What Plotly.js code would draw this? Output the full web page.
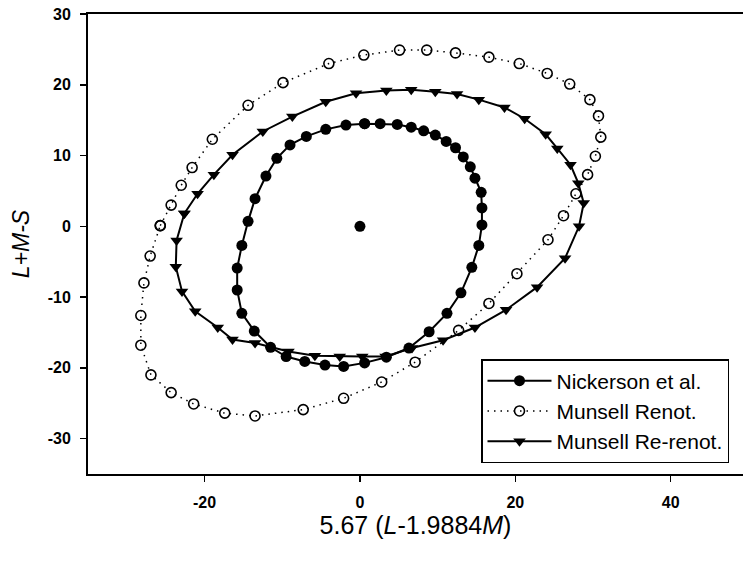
<!DOCTYPE html>
<html>
<head>
<meta charset="utf-8">
<script src="https://cdn.plot.ly/plotly-3.0.1.min.js"></script>
<style>html,body{margin:0;padding:0;background:#fff;overflow:hidden;}</style>
</head>
<body>
<div id="chart" style="width:743px;height:562px;"></div>
<script>
// Nickerson et al. (filled circles, solid line)
const nickX = [0.6, 2.6, 4.8, 6.6, 8.2, 9.7, 11.1, 12.3, 13.3, 14.2, 14.8, 15.6, 15.7, 15.7, 15.3, 14.4, 13.0, 11.2, 8.9, 6.3, 3.4, 0.6, -2.1, -4.5, -7.1, -9.5, -11.5, -13.6, -15.2, -15.8, -15.8, -15.2, -14.4, -13.5, -12.1, -10.7, -9.0, -6.9, -4.4, -1.8];
const nickY = [14.5, 14.5, 14.4, 14.0, 13.5, 12.9, 12.0, 11.1, 9.8, 8.4, 6.8, 4.8, 2.6, 0.2, -2.7, -5.8, -9.4, -12.3, -14.9, -17.2, -18.5, -19.3, -19.8, -19.6, -19.1, -18.4, -17.1, -14.8, -12.3, -9.0, -5.9, -2.7, 0.7, 3.9, 7.1, 9.6, 11.5, 12.7, 13.7, 14.3];
// Munsell Renot. (open circles, dotted line)
const renX = [-25.7, -24.3, -23.0, -21.6, -19.0, -14.4, -9.9, -4.0, 0.5, 5.1, 8.6, 12.3, 16.6, 20.5, 24.1, 27.0, 29.6, 30.7, 31.0, 30.3, 29.3, 27.8, 26.2, 24.2, 20.2, 16.6, 12.7, 7.1, 2.8, -2.1, -7.3, -13.5, -17.4, -21.4, -24.3, -26.9, -28.2, -28.2, -27.8, -27.0];
const renY = [0.1, 3.0, 5.8, 8.3, 12.3, 17.1, 20.3, 23.0, 24.2, 24.9, 24.9, 24.5, 23.9, 23.0, 21.6, 20.1, 17.9, 15.6, 12.6, 9.9, 7.3, 4.6, 1.5, -1.9, -6.7, -10.9, -14.7, -19.2, -22.0, -24.3, -25.9, -26.8, -26.4, -25.1, -23.5, -21.0, -16.8, -12.6, -8.0, -4.2];
// Munsell Re-renot. (filled down-triangles, solid line)
const reX = [-22.6, -20.9, -18.8, -16.4, -12.5, -8.7, -4.4, -0.5, 3.4, 6.6, 9.7, 12.5, 15.3, 18.6, 21.2, 23.9, 25.4, 27.1, 28.1, 28.8, 28.2, 26.4, 22.8, 18.8, 14.8, 10.7, 6.7, 3.3, 0.3, -2.6, -5.8, -9.2, -13.5, -16.4, -18.3, -21.2, -22.9, -23.7, -23.6];
const reY = [1.8, 4.6, 7.3, 10.1, 13.4, 15.5, 17.6, 18.8, 19.2, 19.3, 19.0, 18.7, 17.9, 16.8, 15.2, 13.0, 11.0, 8.7, 6.1, 3.3, 0.0, -4.5, -8.6, -11.8, -14.3, -16.1, -17.2, -18.4, -18.4, -18.4, -18.3, -17.7, -16.5, -16.0, -14.3, -12.0, -9.2, -5.7, -2.0];
// White point
const centerX = [0];
const centerY = [0];

const seriesNames = ["Nickerson et al.", "Munsell Renot.", "Munsell Re-renot."];
const xTicks = [-20, 0, 20, 40];
const yTicks = [-30, -20, -10, 0, 10, 20, 30];

const closeLoop = a => a.concat([a[0]]);

const traces = [
  {
    x: closeLoop(nickX), y: closeLoop(nickY), name: seriesNames[0],
    mode: 'lines+markers', type: 'scatter',
    line: {color: '#000', width: 2},
    marker: {symbol: 'circle', size: 11, color: '#000'}
  },
  {
    x: closeLoop(renX), y: closeLoop(renY), name: seriesNames[1],
    mode: 'lines+markers', type: 'scatter',
    line: {color: '#000', width: 1.5, dash: '1.5px,5px'},
    marker: {symbol: 'circle-open', size: 10, color: '#000', line: {width: 1.6, color: '#000'}}
  },
  {
    x: closeLoop(reX), y: closeLoop(reY), name: seriesNames[2],
    mode: 'lines+markers', type: 'scatter',
    line: {color: '#000', width: 2},
    marker: {symbol: 'triangle-down', size: 11, color: '#000'}
  },
  {
    x: centerX, y: centerY, showlegend: false,
    mode: 'markers', type: 'scatter',
    marker: {symbol: 'circle', size: 11, color: '#000'}
  }
];

const tickFont = {family: 'Liberation Sans, Arial, sans-serif', size: 16, color: '#000', weight: 'bold'};

const layout = {
  width: 743, height: 562,
  paper_bgcolor: '#fff', plot_bgcolor: '#fff',
  margin: {l: 88, r: 0, t: 13.5, b: 88, pad: 0},
  showlegend: true,
  xaxis: {
    range: [-35, 49.3], tickvals: xTicks, ticktext: xTicks.map(String),
    showgrid: false, zeroline: false,
    showline: true, linecolor: '#000', linewidth: 2, mirror: true,
    ticks: 'outside', ticklen: 6, tickwidth: 1.5, tickcolor: '#000',
    tickfont: tickFont, ticklabelstandoff: 7,
    title: {text: '5.67 (<i>L</i>-1.9884<i>M</i>)', font: {family: 'Liberation Sans, Arial, sans-serif', size: 25, color: '#000'}, standoff: 4}
  },
  yaxis: {
    range: [-35, 30], tickvals: yTicks, ticktext: yTicks.map(String),
    showgrid: false, zeroline: false,
    showline: true, linecolor: '#000', linewidth: 2, mirror: false,
    ticks: 'outside', ticklen: 6, tickwidth: 1.5, tickcolor: '#000',
    tickfont: tickFont, ticklabelstandoff: 6,
    title: {text: '<i>L+M-S</i>', font: {family: 'Liberation Sans, Arial, sans-serif', size: 23, color: '#000'}, standoff: 12}
  },
  legend: {
    x: 0.6, y: 0.25, xanchor: 'left', yanchor: 'top',
    bgcolor: '#fff', bordercolor: '#000', borderwidth: 1.5,
    font: {family: 'Liberation Sans, Arial, sans-serif', size: 21, color: '#000'},
    itemwidth: 64, traceorder: 'normal'
  }
};

Plotly.newPlot('chart', traces, layout, {displayModeBar: false, staticPlot: true});
</script>
</body>
</html>
